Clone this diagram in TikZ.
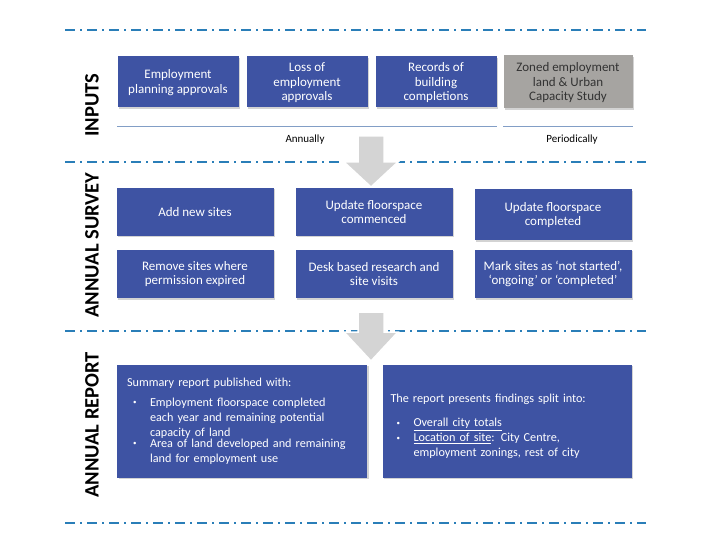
\documentclass[tikz,border=0pt]{standalone}
\usepackage{fontspec}
\setmainfont{Carlito}
\usepackage{tikz}
\usetikzlibrary{positioning,shadows}

\definecolor{boxblue}{RGB}{62,83,163}
\definecolor{boxgray}{RGB}{166,164,161}
\definecolor{sepblue}{RGB}{42,126,184}
\definecolor{arrowgray}{RGB}{212,212,212}
\definecolor{periodline}{RGB}{130,158,198}

\newcommand{\bitem}[1]{\par\noindent\hspace*{6pt}\makebox[17pt][l]{\raisebox{1.5pt}{\fontsize{7}{7}\selectfont\textbullet}}%
  \parbox[t]{200pt}{\raggedright #1}\par}

\begin{document}
\begin{tikzpicture}[x=1pt, y=-1pt, inner sep=0pt, node distance=129pt]
    \tikzstyle{inbox}=[rectangle, fill=boxblue, text=white, align=center,
      minimum width=121pt, minimum height=51pt,
      font=\fontsize{13}{14.5}\selectfont,
      drop shadow={shadow xshift=1.5pt, shadow yshift=-1.5pt, opacity=0.35}]
    \tikzstyle{survbox}=[inbox, minimum width=157pt, minimum height=48pt]
    \tikzstyle{repbox}=[inbox, align=left, minimum width=250pt, minimum height=113pt,
      font=\fontsize{12.2}{15}\selectfont]
    \tikzstyle{sidelbl}=[rotate=90, font=\bfseries\fontsize{20.5}{20.5}\selectfont]
    \tikzstyle{sepline}=[draw=sepblue, line width=2pt,
      dash pattern=on 10pt off 5pt on 2pt off 5pt]
    \tikzstyle{bigarrow}=[fill=arrowgray, draw=white, line width=1.5pt]
    \tikzstyle{period}=[draw=periodline, line width=1.3pt]
    \tikzstyle{freq}=[font=\fontsize{11}{13}\selectfont]

    \useasboundingbox (0,0) rectangle (701,553);

    % section separators
    \foreach \y in {30,162,331,523}
      \draw[sepline] (65,\y) -- (646,\y);

    % side labels
    \node[sidelbl] (lblin) at (92,105) {INPUTS};
    \node[sidelbl] (lblsurv) at (92,245) {ANNUAL SURVEY};
    \node[sidelbl] (lblrep) at (92,425) {ANNUAL REPORT};

    % inputs
    \node[inbox] (in1) at (178,82) {\strut Employment\\planning approvals};
    \node[inbox] (in2) [right of=in1] {\strut Loss of\\employment\\approvals};
    \node[inbox] (in3) [right of=in2] {\strut Records of\\building\\completions};
    \node[inbox, fill=boxgray, text=black!80, minimum width=129pt, minimum height=53pt]
      (in4) [right of=in3, node distance=132pt] {\strut Zoned employment\\land \& Urban\\Capacity Study};

    \draw[period] ([yshift=-19pt] in1.south west) -- ([yshift=-19pt] in3.south east);
    \draw[period] ([yshift=-18pt] in4.south west) -- ([yshift=-18pt] in4.south east);
    \node[freq] (annual) at (305,140) {Annually};
    \node[freq] (periodic) at (572,140) {Periodically};

    % big arrows
    \coordinate (ar1) at (371,136);
    \coordinate (ar2) at (371,312);
    \filldraw[bigarrow] (ar1) ++(-13,0) -- ++(26,0) -- ++(0,26) -- ++(14,0)
      -- ++(-27,25) -- ++(-27,-25) -- ++(14,0) -- cycle;
    \filldraw[bigarrow] (ar2) ++(-13,0) -- ++(26,0) -- ++(0,20) -- ++(14,0)
      -- ++(-27,29) -- ++(-27,-29) -- ++(14,0) -- cycle;

    % annual survey
    \node[survbox] (s1) at (195,212) {Add new sites};
    \node[survbox] (s2) [right of=s1, node distance=179pt] {Update floorspace\\commenced};
    \node[survbox] (s3) [right of=s2, node distance=179pt, yshift=-3pt, minimum height=51pt]
      {Update floorspace\\completed};
    \node[survbox] (s4) at (195,274) {Remove sites where\\permission expired};
    \node[survbox] (s5) [right of=s4, node distance=179pt] {Desk based research and\\site visits};
    \node[survbox] (s6) [right of=s5, node distance=179pt] {Mark sites as `not started',\\`ongoing' or `completed'};

    % annual report
    \node[repbox, text width=230pt] (r1) at (242,421) {%
      Summary report published with:\par\vspace{5pt}
      \bitem{Employment floorspace completed\\each year and remaining potential\\capacity of land}
      \bitem{Area of land developed and remaining\\land for employment use}};
    \node[repbox, text width=233pt, minimum width=249pt] (r2) [right of=r1, node distance=265pt] {%
      \rule{0pt}{20pt}The report presents findings split into:\par\vspace{9pt}
      \bitem{\underline{Overall city totals}}
      \bitem{\underline{Location of site}: City Centre,\\employment zonings, rest of city}};
\end{tikzpicture}
\end{document}
